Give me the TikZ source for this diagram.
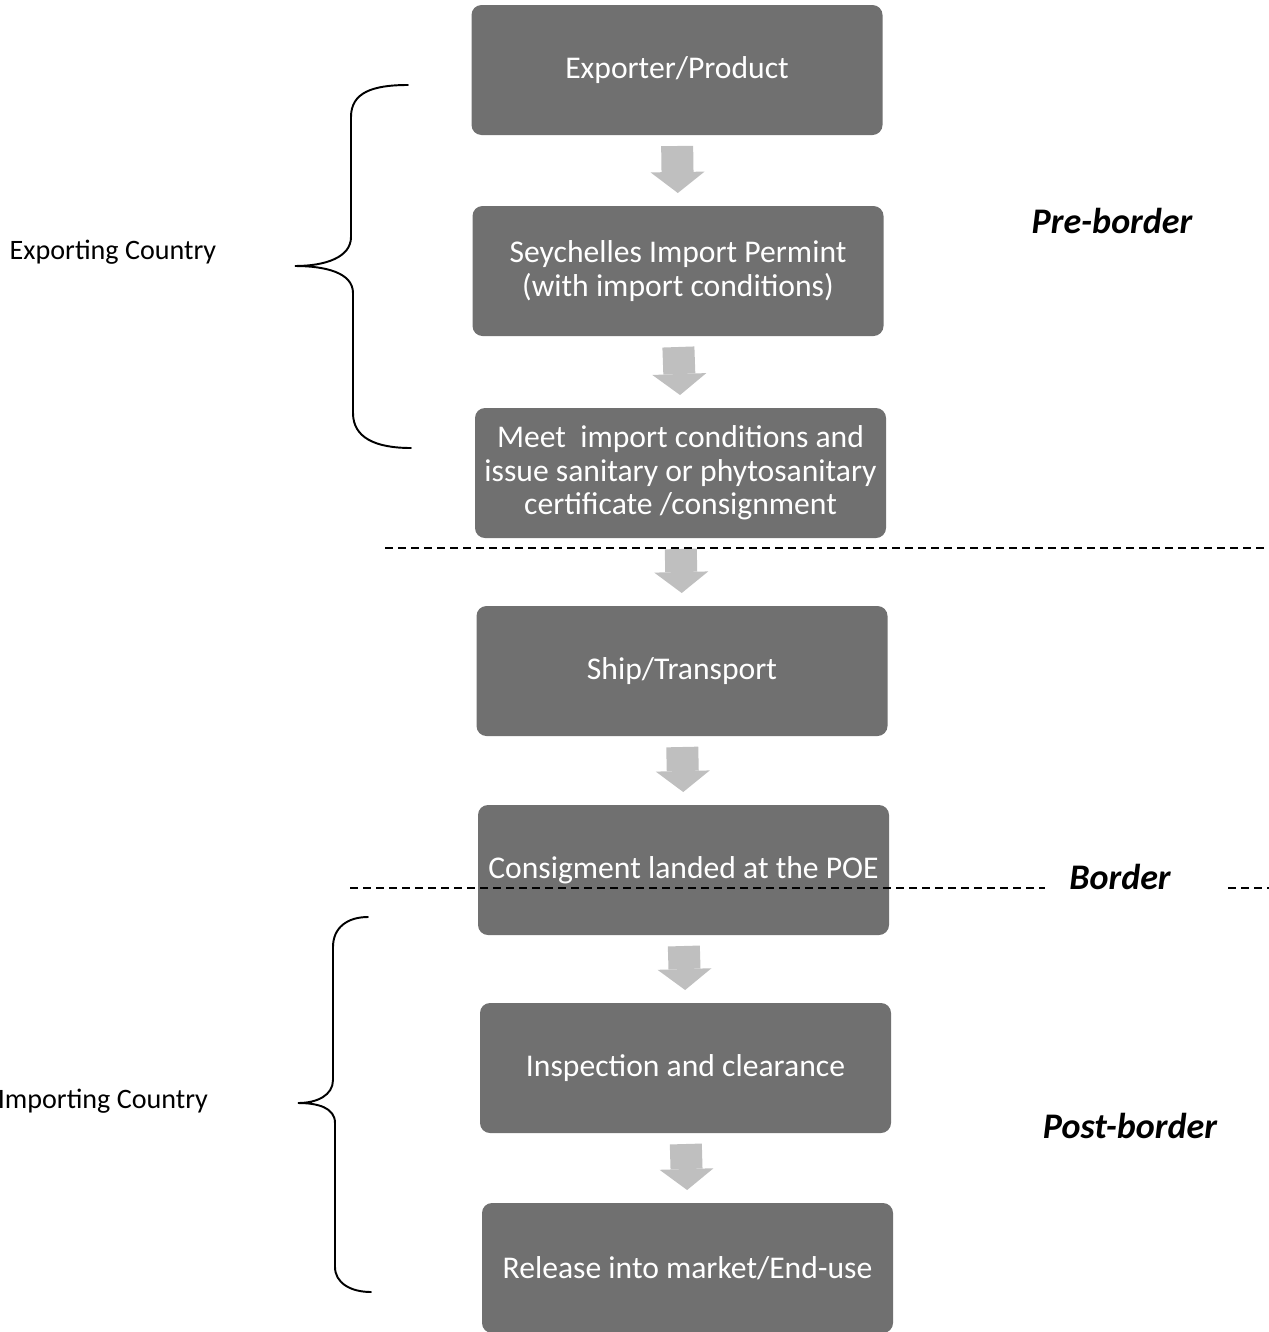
\documentclass[tikz,border=0pt]{standalone}
\usepackage{fontspec}
\setmainfont{Carlito}
\usetikzlibrary{arrows.meta,calc}

\begin{document}
\begin{tikzpicture}[auto, outer sep=0pt,
    stage/.style={fill=black!56, rounded corners=0.2cm, minimum width=8.22cm, minimum height=2.6cm,
        inner sep=0pt, text=white, align=center, font=\fontsize{18}{19}\selectfont},
    flow/.style={line width=0.64cm, draw=black!25, shorten <=0.22cm, shorten >=0.26cm,
        -{Triangle[width=1.08cm, length=0.42cm, line width=0pt]}},
    side/.style={font=\fontsize{16}{19}\selectfont},
    zone/.style={font=\fontsize{20.5}{24}\selectfont\bfseries\itshape},
    cut/.style={dash pattern=on 0.16cm off 0.1cm, line width=1.1pt},
    curly/.style={line width=1.1pt, line cap=round}]

\useasboundingbox (0,0) rectangle (25.38,-26.64);

\node[stage] at (13.54, -1.40) (exporter) {Exporter/Product};
\node[stage] at (13.56, -5.42) (permit) {Seychelles Import Permint\\(with import conditions)};
\node[stage] at (13.61, -9.46) (certificate) {Meet\ \ import conditions and\\issue sanitary or phytosanitary\\certificate /consignment};
\node[stage] at (13.64, -13.42) (ship) {Ship/Transport};
\node[stage] at (13.67, -17.40) (landed) {Consigment landed at the POE};
\node[stage] at (13.71, -21.36) (inspection) {Inspection and clearance};
\node[stage] at (13.75, -25.36) (release) {Release into market/End-use};

    \draw [flow] (exporter.south) -- (permit.north);
    \draw [flow] (permit.south) -- (certificate.north);
    \draw [flow] (certificate.south) -- (ship.north);
    \draw [flow] (ship.south) -- (landed.north);
    \draw [flow] (landed.south) -- (inspection.north);
    \draw [flow] (inspection.south) -- (release.north);

\node[zone] at (22.24, -4.42) (pre) {Pre-border};
\node[zone] at (22.40, -17.54) (border) {Border};
\node[zone] at (22.60, -22.52) (post) {Post-border};

\node[side] at (2.26, -5.04) (exporting) {Exporting Country};
\node[side, anchor=west] at (-0.16, -22.02) (importing) {Importing Country};

\coordinate (preL) at (7.70, -10.96);
\coordinate (preR) at (25.38, -10.96);
\coordinate (borL) at (7.00, -17.76);
\coordinate (borR) at (20.90, -17.76);
\coordinate (endL) at (24.56, -17.76);
\coordinate (endR) at (25.38, -17.76);
    \draw [cut] (preL) -- (preR);
    \draw [cut] (borL) -- (borR);
    \draw [cut] (endL) -- (endR);

    \draw [curly] (8.16,-1.70) .. controls (7.45,-1.70) and (7.02,-1.85) .. (7.02,-2.34)
        -- (7.02,-4.74) .. controls (7.02,-5.15) and (6.50,-5.32) .. (5.90,-5.32)
        .. controls (6.50,-5.32) and (7.06,-5.45) .. (7.06,-5.86)
        -- (7.06,-8.26) .. controls (7.06,-8.75) and (7.50,-8.96) .. (8.22,-8.96);
    \draw [curly] (7.36,-18.34) .. controls (6.95,-18.34) and (6.66,-18.55) .. (6.66,-18.94)
        -- (6.66,-21.60) .. controls (6.66,-21.90) and (6.35,-22.06) .. (5.96,-22.06)
        .. controls (6.35,-22.06) and (6.70,-22.15) .. (6.70,-22.46)
        -- (6.70,-25.34) .. controls (6.70,-25.65) and (7.00,-25.84) .. (7.42,-25.84);
\end{tikzpicture}
\end{document}
